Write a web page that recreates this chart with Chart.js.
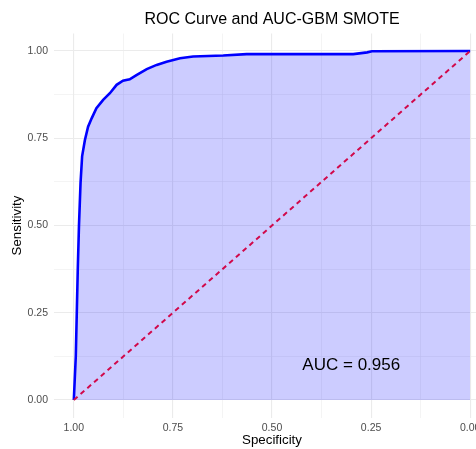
<!DOCTYPE html>
<html>
<head>
<meta charset="utf-8">
<script src="https://cdn.jsdelivr.net/npm/chart.js@4"></script>
<style>
  html, body { margin: 0; padding: 0; background: #fff; overflow: hidden; }
  #wrap { width: 496px; height: 449px; }
</style>
</head>
<body>
<div id="wrap"><canvas id="rocChart" width="496" height="449"></canvas></div>
<script>
"use strict";

//--------------------DATA

// ROC curve points (specificity runs 1 -> 0)
let specificity = [
  1.0, 0.995, 0.99, 0.987, 0.983, 0.979, 0.972, 0.964, 0.955, 0.943,
  0.926, 0.909, 0.892, 0.876, 0.859, 0.842, 0.816, 0.791, 0.766, 0.749,
  0.732, 0.699, 0.623, 0.564, 0.379, 0.295, 0.26, 0.248, 0.0,
];
let sensitivity = [
  0.0, 0.126, 0.375, 0.499, 0.623, 0.699, 0.745, 0.783, 0.807, 0.836,
  0.86, 0.879, 0.903, 0.915, 0.919, 0.931, 0.948, 0.96, 0.969, 0.974,
  0.979, 0.984, 0.987, 0.991, 0.991, 0.991, 0.996, 0.999, 1.0,
];

// chance line
let diagonalX = [1, 0];
let diagonalY = [0, 1];

// axis ticks (labelled every 0.25, minor grid between)
let tickValues = [0, 0.125, 0.25, 0.375, 0.5, 0.625, 0.75, 0.875, 1];

let aucLabel = "AUC = 0.956";
let aucPosition = { x: 0.3, y: 0.1 };

//--------------------HELPERS

function toPoints(xs, ys) {
  let pts = [];
  for (let i = 0; i < xs.length; i++) {
    pts.push({ x: xs[i], y: ys[i] });
  }
  return pts;
}

function isMajor(v) {
  return Math.abs(v * 4 - Math.round(v * 4)) < 1e-6;
}

function setTicks(scale) {
  scale.ticks = tickValues.map(function (v) {
    return { value: v };
  });
}

let gridStyle = {
  drawTicks: false,
  color: "#ebebeb",
  lineWidth: function (ctx) {
    return ctx.tick && isMajor(ctx.tick.value) ? 1.1 : 0.55;
  },
};

function tickLabel(value) {
  return isMajor(value) ? value.toFixed(2) : "";
}

// AUC text drawn at a data position
const aucText = {
  id: "aucText",
  afterDatasetsDraw(chart) {
    const ctx = chart.ctx;
    const px = chart.scales.x.getPixelForValue(aucPosition.x);
    const py = chart.scales.y.getPixelForValue(aucPosition.y);
    ctx.save();
    ctx.font = "17px 'Liberation Sans', Arial, sans-serif";
    ctx.fillStyle = "#000";
    ctx.textAlign = "center";
    ctx.textBaseline = "middle";
    ctx.fillText(aucLabel, px, py);
    ctx.restore();
  },
};

//--------------------CHART

const ctx = document.getElementById("rocChart").getContext("2d");
const rocChart = new Chart(ctx, {
  type: "line",
  data: {
    datasets: [
      {
        label: "ROC",
        data: toPoints(specificity, sensitivity),
        borderColor: "#0000ff",
        backgroundColor: "rgba(0, 0, 255, 0.2)",
        borderWidth: 2.6,
        pointRadius: 0,
        tension: 0,
        fill: "origin",
        order: 2,
      },
      {
        label: "Chance",
        data: toPoints(diagonalX, diagonalY),
        borderColor: "#d1094b",
        borderWidth: 2,
        borderDash: [5, 4],
        pointRadius: 0,
        fill: false,
        order: 1,
      },
    ],
  },
  options: {
    responsive: false,
    animation: false,
    layout: { padding: { left: 0, right: 6, top: 0, bottom: 0 } },
    plugins: {
      legend: { display: false },
      tooltip: { enabled: false },
      title: {
        display: true,
        fullSize: false,
        text: "ROC Curve and AUC-GBM SMOTE",
        color: "#000",
        font: { family: "'Liberation Sans', Arial, sans-serif", size: 16, weight: "normal" },
        padding: { top: 10, bottom: 4.3 },
      },
    },
    scales: {
      x: {
        type: "linear",
        reverse: true,
        min: -0.05,
        max: 1.05,
        afterBuildTicks: setTicks,
        afterFit: function (scale) {
          scale.height = 31.5;
        },
        border: { display: false },
        grid: gridStyle,
        ticks: {
          color: "#4d4d4d",
          padding: 4,
          maxRotation: 0,
          autoSkip: false,
          font: { family: "'Liberation Sans', Arial, sans-serif", size: 10.5 },
          callback: tickLabel,
        },
        title: {
          display: true,
          text: "Specificity",
          color: "#000",
          padding: { top: 0, bottom: 1 },
          font: { family: "'Liberation Sans', Arial, sans-serif", size: 13.3 },
        },
      },
      y: {
        type: "linear",
        min: -0.05,
        max: 1.05,
        afterBuildTicks: setTicks,
        afterFit: function (scale) {
          scale.width = 54;
        },
        border: { display: false },
        grid: gridStyle,
        ticks: {
          color: "#4d4d4d",
          padding: 6,
          autoSkip: false,
          font: { family: "'Liberation Sans', Arial, sans-serif", size: 10.5 },
          callback: tickLabel,
        },
        title: {
          display: true,
          text: "Sensitivity",
          color: "#000",
          padding: { top: 9, bottom: 0 },
          font: { family: "'Liberation Sans', Arial, sans-serif", size: 13.3 },
        },
      },
    },
  },
  plugins: [aucText],
});
</script>
</body>
</html>
